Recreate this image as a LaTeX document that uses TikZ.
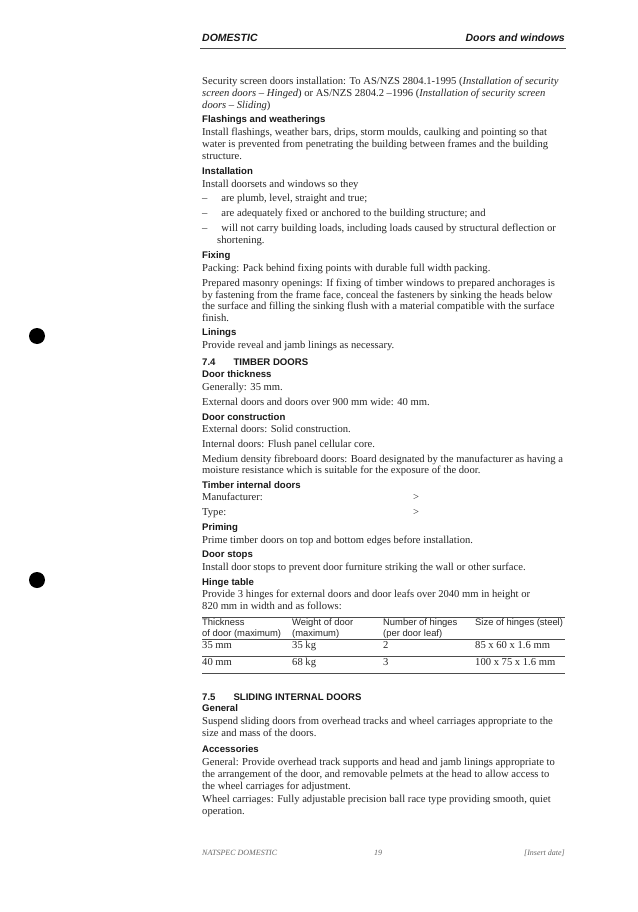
\documentclass[tikz,border=0pt]{standalone}
\usepackage{fontspec}
\setmainfont{Liberation Serif}
\setsansfont{Liberation Sans}
\usetikzlibrary{positioning}

\newcommand{\bodyfont}{\fontsize{10.6}{12}\selectfont\rmfamily}
\newcommand{\headfont}{\fontsize{9.6}{12}\selectfont\sffamily\bfseries}

\begin{document}
\begin{tikzpicture}[x=1pt,y=-1pt,
    txt/.style={anchor=west,inner sep=0pt,text height=7pt,text depth=2.4pt,font=\bodyfont,text=black!85},
    head/.style={anchor=west,inner sep=0pt,text height=7pt,text depth=2.4pt,font=\headfont,text=black!90},
    tab/.style={anchor=west,inner sep=0pt,text height=7pt,text depth=2.4pt,font=\fontsize{9.4}{11}\selectfont\sffamily,text=black!85},
    rule/.style={line width=0.7pt,black!70},
    dot/.style={circle,fill=black,inner sep=0pt,minimum size=16pt},
   ]
    \useasboundingbox[fill=white] (0,0) rectangle (637,912);

    % page header
    \node (hdl) [head,font=\fontsize{10.5}{12}\selectfont\sffamily\bfseries\itshape] at (202,39) {DOMESTIC};
    \node (hdr) [head,anchor=east,font=\fontsize{10.5}{12}\selectfont\sffamily\bfseries\itshape] at (565,39) {Doors and windows};
    \draw[rule,line width=1pt] (200,49) -- (566,49);

    % binder holes
    \node (hole1) [dot] at (37,336) {};
    \node (hole2) [dot] at (37,580) {};

    \node (sec1) [txt] at (202,82) {Security screen doors installation: To AS/NZS 2804.1-1995 (\textit{Installation of security}};
    \node (sec2) [txt] at (202,94) {\textit{screen doors -- Hinged}) or AS/NZS 2804.2 --1996 (\textit{Installation of security screen}};
    \node (sec3) [txt] at (202,106) {\textit{doors -- Sliding})};

    \node (flh) [head] at (202,120) {Flashings and weatherings};
    \node (fl1) [txt] at (202,133) {Install flashings, weather bars, drips, storm moulds, caulking and pointing so that};
    \node (fl2) [txt] at (202,145) {water is prevented from penetrating the building between frames and the building};
    \node (fl3) [txt] at (202,157) {structure.};

    \node (insh) [head] at (202,172) {Installation};
    \node (ins1) [txt] at (202,185) {Install doorsets and windows so they};
    \node (ins2) [txt] at (202,199) {--\hspace{14pt}are plumb, level, straight and true;};
    \node (ins3) [txt] at (202,214) {--\hspace{14pt}are adequately fixed or anchored to the building structure; and};
    \node (ins4) [txt] at (202,229) {--\hspace{14pt}will not carry building loads, including loads caused by structural deflection or};
    \node (ins5) [txt] at (217,241) {shortening.};

    \node (fixh) [head] at (202,256) {Fixing};
    \node (fix1) [txt] at (202,269) {Packing: Pack behind fixing points with durable full width packing.};
    \node (fix2) [txt] at (202,284) {Prepared masonry openings: If fixing of timber windows to prepared anchorages is};
    \node (fix3) [txt] at (202,296) {by fastening from the frame face, conceal the fasteners by sinking the heads below};
    \node (fix4) [txt] at (202,307) {the surface and filling the sinking flush with a material compatible with the surface};
    \node (fix5) [txt] at (202,319) {finish.};

    \node (linh) [head] at (202,333) {Linings};
    \node (lin1) [txt] at (202,346) {Provide reveal and jamb linings as necessary.};

    \node (s74) [head] at (202,363) {7.4\hspace{18pt}TIMBER DOORS};
    \node (thh) [head] at (202,375) {Door thickness};
    \node (th1) [txt] at (202,388) {Generally: 35 mm.};
    \node (th2) [txt] at (202,403) {External doors and doors over 900 mm wide: 40 mm.};

    \node (conh) [head] at (202,418) {Door construction};
    \node (con1) [txt] at (202,430) {External doors: Solid construction.};
    \node (con2) [txt] at (202,445) {Internal doors: Flush panel cellular core.};
    \node (con3) [txt] at (202,460) {Medium density fibreboard doors: Board designated by the manufacturer as having a};
    \node (con4) [txt] at (202,471) {moisture resistance which is suitable for the exposure of the door.};

    \node (tih) [head] at (202,486) {Timber internal doors};
    \node (ti1) [txt] at (202,498) {Manufacturer:};
    \node (ti1v) [txt] at (413,498) {>};
    \node (ti2) [txt] at (202,513) {Type:};
    \node (ti2v) [txt] at (413,513) {>};

    \node (prh) [head] at (202,528) {Priming};
    \node (pr1) [txt] at (202,541) {Prime timber doors on top and bottom edges before installation.};

    \node (dsh) [head] at (202,555) {Door stops};
    \node (ds1) [txt] at (202,568) {Install door stops to prevent door furniture striking the wall or other surface.};

    \node (hth) [head] at (202,583) {Hinge table};
    \node (ht1) [txt] at (202,595) {Provide 3 hinges for external doors and door leafs over 2040 mm in height or};
    \node (ht2) [txt] at (202,607) {820 mm in width and as follows:};

    % hinge table
    \draw[rule] (202,617) -- (565,617);
    \node (c1a) [tab] at (202,623) {Thickness};
    \node (c1b) [tab] at (202,634) {of door (maximum)};
    \node (c2a) [tab] at (292,623) {Weight of door};
    \node (c2b) [tab] at (292,634) {(maximum)};
    \node (c3a) [tab] at (383,623) {Number of hinges};
    \node (c3b) [tab] at (383,634) {(per door leaf)};
    \node (c4a) [tab] at (475,623) {Size of hinges (steel)};
    \draw[rule] (202,639) -- (565,639);
    \node (r1c1) [txt] at (202,646) {35 mm};
    \node (r1c2) [txt] at (292,646) {35 kg};
    \node (r1c3) [txt] at (383,646) {2};
    \node (r1c4) [txt] at (475,646) {85 x 60 x 1.6 mm};
    \draw[rule] (202,656) -- (565,656);
    \node (r2c1) [txt] at (202,663) {40 mm};
    \node (r2c2) [txt] at (292,663) {68 kg};
    \node (r2c3) [txt] at (383,663) {3};
    \node (r2c4) [txt] at (475,663) {100 x 75 x 1.6 mm};
    \draw[rule] (202,673) -- (565,673);

    \node (s75) [head] at (202,698) {7.5\hspace{18pt}SLIDING INTERNAL DOORS};
    \node (genh) [head] at (202,709) {General};
    \node (gen1) [txt] at (202,722) {Suspend sliding doors from overhead tracks and wheel carriages appropriate to the};
    \node (gen2) [txt] at (202,734) {size and mass of the doors.};

    \node (acch) [head] at (202,750) {Accessories};
    \node (acc1) [txt] at (202,763) {General: Provide overhead track supports and head and jamb linings appropriate to};
    \node (acc2) [txt] at (202,775) {the arrangement of the door, and removable pelmets at the head to allow access to};
    \node (acc3) [txt] at (202,787) {the wheel carriages for adjustment.};
    \node (acc4) [txt] at (202,800) {Wheel carriages: Fully adjustable precision ball race type providing smooth, quiet};
    \node (acc5) [txt] at (202,812) {operation.};

    % page footer
    \node (ftl) [txt,font=\fontsize{8}{10}\selectfont\itshape,text=black!60] at (202,853) {NATSPEC DOMESTIC};
    \node (ftc) [txt,anchor=center,font=\fontsize{8}{10}\selectfont\itshape,text=black!60] at (378,853) {19};
    \node (ftr) [txt,anchor=east,font=\fontsize{8}{10}\selectfont\itshape,text=black!60] at (565,853) {[Insert date]};
\end{tikzpicture}
\end{document}
